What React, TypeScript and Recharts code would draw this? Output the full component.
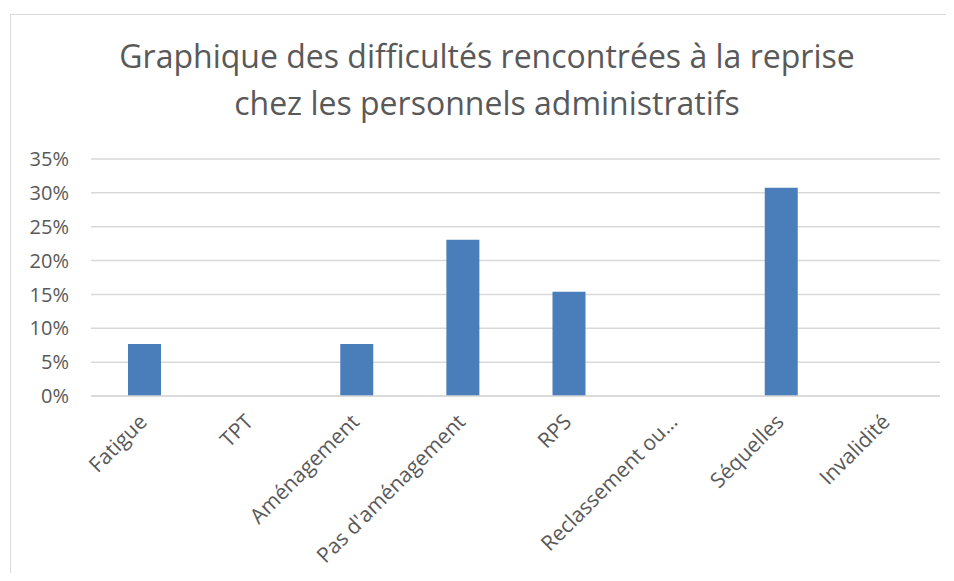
import { BarChart, Bar, CartesianGrid, XAxis, YAxis } from "recharts"

const categories = [
  "Fatigue",
  "TPT",
  "Aménagement",
  "Pas d'aménagement",
  "RPS",
  "Reclassement ou…",
  "Séquelles",
  "Invalidité",
]
const shares = [0.0769, 0, 0.0769, 0.2308, 0.1538, 0, 0.3077, 0]
const yTicks = [0, 0.05, 0.1, 0.15, 0.2, 0.25, 0.3, 0.35]

const data = categories.map((name, i) => ({ name, value: shares[i] }))

const FONT = "'Open Sans', 'DejaVu Sans', sans-serif"
const GREY = "#595959"

function AngledTick(props: any) {
  const { x, y, payload } = props
  return (
    <g transform={`translate(${x - 1},${y + 14})`}>
      <text
        transform="rotate(-45)"
        textAnchor="end"
        dy="0.35em"
        fill={GREY}
        fontSize={21}
        fontFamily={FONT}
      >
        {payload.value}
      </text>
    </g>
  )
}

export default function App() {
  return (
    <div style={{ position: "relative", margin: -8, width: 954, height: 581, overflow: "hidden", background: "#fff" }}>
      <div
        style={{
          position: "absolute",
          left: 10,
          top: 14,
          width: 980,
          height: 600,
          border: "1px solid #d9d9d9",
          boxSizing: "border-box",
        }}
      />
      <div
        style={{
          position: "absolute",
          left: 37,
          width: 900,
          top: 32,
          textAlign: "center",
          fontFamily: FONT,
          fontSize: 32,
          lineHeight: "47px",
          color: GREY,
        }}
      >
        Graphique des difficultés rencontrées à la reprise
        <br />
        chez les personnels administratifs
      </div>
      <div style={{ position: "absolute", left: 0, top: 0 }}>
        <BarChart
          width={954}
          height={581}
          data={data}
          margin={{ top: 159, right: 14, bottom: 15, left: 0 }}
        >
          <CartesianGrid vertical={false} stroke="#d9d9d9" strokeWidth={1.5} />
          <XAxis
            dataKey="name"
            height={170}
            interval={0}
            tickLine={false}
            axisLine={{ stroke: "#d9d9d9", strokeWidth: 1.5 }}
            tick={<AngledTick />}
          />
          <YAxis
            width={91}
            domain={[0, 0.35]}
            ticks={yTicks}
            axisLine={false}
            tickLine={false}
            tickSize={0}
            tickMargin={22}
            tickFormatter={(v: number) => `${Math.round(v * 100)}%`}
            tick={{ fill: GREY, fontSize: 20, fontFamily: FONT }}
          />
          <Bar dataKey="value" fill="#4a7ebb" barSize={33} isAnimationActive={false} />
        </BarChart>
      </div>
    </div>
  )
}
